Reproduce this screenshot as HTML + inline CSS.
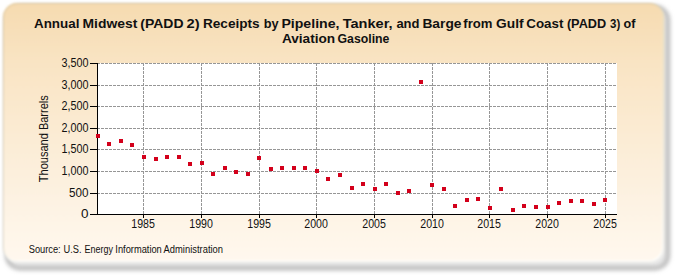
<!DOCTYPE html><html><head><meta charset="utf-8"><style>
html,body{margin:0;padding:0;background:#fff;}
body{width:675px;height:275px;overflow:hidden;}
svg{display:block;}
text{font-family:"Liberation Sans",sans-serif;}
</style></head><body>
<svg width="675" height="275" viewBox="0 0 675 275">
<defs>
<linearGradient id="bg" x1="0" y1="0" x2="0" y2="1">
<stop offset="0" stop-color="#f6dbb0"/>
<stop offset="0.24" stop-color="#f9e4c4"/>
<stop offset="0.76" stop-color="#fdf2e2"/>
<stop offset="1" stop-color="#fff8ee"/>
</linearGradient>
<linearGradient id="bandg" x1="0" y1="0" x2="0" y2="1">
<stop offset="0" stop-color="#f4e3c0"/>
<stop offset="1" stop-color="#ffffff"/>
</linearGradient>
<filter id="bb" x="-2%" y="-2%" width="104%" height="104%"><feGaussianBlur stdDeviation="0.9"/></filter>
<filter id="sh" x="-10%" y="-10%" width="120%" height="130%"><feGaussianBlur stdDeviation="2.3"/></filter>
</defs>
<rect x="7" y="7" width="661" height="261.2" rx="13" ry="13" fill="#e8e8e8" stroke="#b4b4b4" stroke-width="4" filter="url(#sh)"/>
<g filter="url(#bb)">
<rect x="3" y="3" width="661.3" height="259.8" rx="14.5" ry="14.5" fill="url(#bandg)"/>
<rect x="3" y="3" width="659" height="257.5" rx="14" ry="14" fill="url(#bg)"/>
<rect x="3.5" y="3.5" width="660.3" height="258.8" rx="14.5" ry="14.5" fill="none" stroke="rgba(120,120,90,0.18)" stroke-width="1"/>
</g>

<rect x="97" y="63" width="520" height="151" fill="#ffffff"/>
<line x1="97" y1="193.5" x2="617" y2="193.5" stroke="#969696" stroke-width="1" stroke-dasharray="3 1"/>
<line x1="97" y1="171.5" x2="617" y2="171.5" stroke="#969696" stroke-width="1" stroke-dasharray="3 1"/>
<line x1="97" y1="149.5" x2="617" y2="149.5" stroke="#969696" stroke-width="1" stroke-dasharray="3 1"/>
<line x1="97" y1="128.5" x2="617" y2="128.5" stroke="#969696" stroke-width="1" stroke-dasharray="3 1"/>
<line x1="97" y1="106.5" x2="617" y2="106.5" stroke="#969696" stroke-width="1" stroke-dasharray="3 1"/>
<line x1="97" y1="85.5" x2="617" y2="85.5" stroke="#969696" stroke-width="1" stroke-dasharray="3 1"/>
<line x1="97" y1="63.5" x2="617" y2="63.5" stroke="#969696" stroke-width="1" stroke-dasharray="3 1"/>
<line x1="143.5" y1="63" x2="143.5" y2="214" stroke="#969696" stroke-width="1" stroke-dasharray="3 1"/>
<line x1="201.5" y1="63" x2="201.5" y2="214" stroke="#969696" stroke-width="1" stroke-dasharray="3 1"/>
<line x1="259.5" y1="63" x2="259.5" y2="214" stroke="#969696" stroke-width="1" stroke-dasharray="3 1"/>
<line x1="316.5" y1="63" x2="316.5" y2="214" stroke="#969696" stroke-width="1" stroke-dasharray="3 1"/>
<line x1="374.5" y1="63" x2="374.5" y2="214" stroke="#969696" stroke-width="1" stroke-dasharray="3 1"/>
<line x1="432.5" y1="63" x2="432.5" y2="214" stroke="#969696" stroke-width="1" stroke-dasharray="3 1"/>
<line x1="489.5" y1="63" x2="489.5" y2="214" stroke="#969696" stroke-width="1" stroke-dasharray="3 1"/>
<line x1="547.5" y1="63" x2="547.5" y2="214" stroke="#969696" stroke-width="1" stroke-dasharray="3 1"/>
<line x1="605.5" y1="63" x2="605.5" y2="214" stroke="#969696" stroke-width="1" stroke-dasharray="3 1"/>
<line x1="97.5" y1="63" x2="97.5" y2="215" stroke="#000" stroke-width="1"/>
<line x1="97" y1="214.5" x2="617" y2="214.5" stroke="#000" stroke-width="1"/>
<line x1="90" y1="214.5" x2="97" y2="214.5" stroke="#000" stroke-width="1"/>
<text x="88.4" y="217.8" font-size="12" text-anchor="end" fill="#111111" textLength="7.5" lengthAdjust="spacingAndGlyphs">0</text>
<line x1="90" y1="193.5" x2="97" y2="193.5" stroke="#000" stroke-width="1"/>
<text x="88.4" y="196.8" font-size="12" text-anchor="end" fill="#111111" textLength="19.5" lengthAdjust="spacingAndGlyphs">500</text>
<line x1="90" y1="171.5" x2="97" y2="171.5" stroke="#000" stroke-width="1"/>
<text x="88.4" y="174.8" font-size="12" text-anchor="end" fill="#111111" textLength="27" lengthAdjust="spacingAndGlyphs">1,000</text>
<line x1="90" y1="149.5" x2="97" y2="149.5" stroke="#000" stroke-width="1"/>
<text x="88.4" y="152.8" font-size="12" text-anchor="end" fill="#111111" textLength="27" lengthAdjust="spacingAndGlyphs">1,500</text>
<line x1="90" y1="128.5" x2="97" y2="128.5" stroke="#000" stroke-width="1"/>
<text x="88.4" y="131.8" font-size="12" text-anchor="end" fill="#111111" textLength="27" lengthAdjust="spacingAndGlyphs">2,000</text>
<line x1="90" y1="106.5" x2="97" y2="106.5" stroke="#000" stroke-width="1"/>
<text x="88.4" y="109.8" font-size="12" text-anchor="end" fill="#111111" textLength="27" lengthAdjust="spacingAndGlyphs">2,500</text>
<line x1="90" y1="85.5" x2="97" y2="85.5" stroke="#000" stroke-width="1"/>
<text x="88.4" y="88.8" font-size="12" text-anchor="end" fill="#111111" textLength="27" lengthAdjust="spacingAndGlyphs">3,000</text>
<line x1="90" y1="63.5" x2="97" y2="63.5" stroke="#000" stroke-width="1"/>
<text x="88.4" y="66.8" font-size="12" text-anchor="end" fill="#111111" textLength="27" lengthAdjust="spacingAndGlyphs">3,500</text>
<line x1="143.5" y1="214" x2="143.5" y2="218" stroke="#000" stroke-width="1"/>
<text x="143.1" y="227.7" font-size="12" text-anchor="middle" fill="#111111" textLength="23.6" lengthAdjust="spacingAndGlyphs">1985</text>
<line x1="201.5" y1="214" x2="201.5" y2="218" stroke="#000" stroke-width="1"/>
<text x="201.1" y="227.7" font-size="12" text-anchor="middle" fill="#111111" textLength="23.6" lengthAdjust="spacingAndGlyphs">1990</text>
<line x1="259.5" y1="214" x2="259.5" y2="218" stroke="#000" stroke-width="1"/>
<text x="259.1" y="227.7" font-size="12" text-anchor="middle" fill="#111111" textLength="23.6" lengthAdjust="spacingAndGlyphs">1995</text>
<line x1="316.5" y1="214" x2="316.5" y2="218" stroke="#000" stroke-width="1"/>
<text x="316.1" y="227.7" font-size="12" text-anchor="middle" fill="#111111" textLength="23.6" lengthAdjust="spacingAndGlyphs">2000</text>
<line x1="374.5" y1="214" x2="374.5" y2="218" stroke="#000" stroke-width="1"/>
<text x="374.1" y="227.7" font-size="12" text-anchor="middle" fill="#111111" textLength="23.6" lengthAdjust="spacingAndGlyphs">2005</text>
<line x1="432.5" y1="214" x2="432.5" y2="218" stroke="#000" stroke-width="1"/>
<text x="432.1" y="227.7" font-size="12" text-anchor="middle" fill="#111111" textLength="23.6" lengthAdjust="spacingAndGlyphs">2010</text>
<line x1="489.5" y1="214" x2="489.5" y2="218" stroke="#000" stroke-width="1"/>
<text x="489.1" y="227.7" font-size="12" text-anchor="middle" fill="#111111" textLength="23.6" lengthAdjust="spacingAndGlyphs">2015</text>
<line x1="547.5" y1="214" x2="547.5" y2="218" stroke="#000" stroke-width="1"/>
<text x="547.1" y="227.7" font-size="12" text-anchor="middle" fill="#111111" textLength="23.6" lengthAdjust="spacingAndGlyphs">2020</text>
<line x1="605.5" y1="214" x2="605.5" y2="218" stroke="#000" stroke-width="1"/>
<text x="605.1" y="227.7" font-size="12" text-anchor="middle" fill="#111111" textLength="23.6" lengthAdjust="spacingAndGlyphs">2025</text>
<rect x="96" y="134" width="4" height="4" fill="#d3001b"/>
<rect x="107" y="142" width="4" height="4" fill="#d3001b"/>
<rect x="119" y="139" width="4" height="4" fill="#d3001b"/>
<rect x="130" y="143" width="4" height="4" fill="#d3001b"/>
<rect x="142" y="155" width="4" height="4" fill="#d3001b"/>
<rect x="154" y="157" width="4" height="4" fill="#d3001b"/>
<rect x="165" y="155" width="4" height="4" fill="#d3001b"/>
<rect x="177" y="155" width="4" height="4" fill="#d3001b"/>
<rect x="188" y="162" width="4" height="4" fill="#d3001b"/>
<rect x="200" y="161" width="4" height="4" fill="#d3001b"/>
<rect x="211" y="172" width="4" height="4" fill="#d3001b"/>
<rect x="223" y="166" width="4" height="4" fill="#d3001b"/>
<rect x="234" y="170" width="4" height="4" fill="#d3001b"/>
<rect x="246" y="172" width="4" height="4" fill="#d3001b"/>
<rect x="257" y="156" width="4" height="4" fill="#d3001b"/>
<rect x="269" y="167" width="4" height="4" fill="#d3001b"/>
<rect x="280" y="166" width="4" height="4" fill="#d3001b"/>
<rect x="292" y="166" width="4" height="4" fill="#d3001b"/>
<rect x="303" y="166" width="4" height="4" fill="#d3001b"/>
<rect x="315" y="169" width="4" height="4" fill="#d3001b"/>
<rect x="326" y="177" width="4" height="4" fill="#d3001b"/>
<rect x="338" y="173" width="4" height="4" fill="#d3001b"/>
<rect x="350" y="186" width="4" height="4" fill="#d3001b"/>
<rect x="361" y="182" width="4" height="4" fill="#d3001b"/>
<rect x="373" y="187" width="4" height="4" fill="#d3001b"/>
<rect x="384" y="182" width="4" height="4" fill="#d3001b"/>
<rect x="396" y="191" width="4" height="4" fill="#d3001b"/>
<rect x="407" y="189" width="4" height="4" fill="#d3001b"/>
<rect x="419" y="80" width="4" height="4" fill="#d3001b"/>
<rect x="430" y="183" width="4" height="4" fill="#d3001b"/>
<rect x="442" y="187" width="4" height="4" fill="#d3001b"/>
<rect x="453" y="204" width="4" height="4" fill="#d3001b"/>
<rect x="465" y="198" width="4" height="4" fill="#d3001b"/>
<rect x="476" y="197" width="4" height="4" fill="#d3001b"/>
<rect x="488" y="206" width="4" height="4" fill="#d3001b"/>
<rect x="499" y="187" width="4" height="4" fill="#d3001b"/>
<rect x="511" y="208" width="4" height="4" fill="#d3001b"/>
<rect x="522" y="204" width="4" height="4" fill="#d3001b"/>
<rect x="534" y="205" width="4" height="4" fill="#d3001b"/>
<rect x="546" y="205" width="4" height="4" fill="#d3001b"/>
<rect x="557" y="201" width="4" height="4" fill="#d3001b"/>
<rect x="569" y="199" width="4" height="4" fill="#d3001b"/>
<rect x="580" y="199" width="4" height="4" fill="#d3001b"/>
<rect x="592" y="202" width="4" height="4" fill="#d3001b"/>
<rect x="603" y="198" width="4" height="4" fill="#d3001b"/>
<text x="34.00" y="27.7" font-size="13" font-weight="bold" fill="#111111" textLength="45.40" lengthAdjust="spacingAndGlyphs">Annual</text>
<text x="82.50" y="27.7" font-size="13" font-weight="bold" fill="#111111" textLength="54.80" lengthAdjust="spacingAndGlyphs">Midwest</text>
<text x="140.30" y="27.7" font-size="13" font-weight="bold" fill="#111111" textLength="43.30" lengthAdjust="spacingAndGlyphs">(PADD</text>
<text x="186.60" y="27.7" font-size="13" font-weight="bold" fill="#111111" textLength="13.10" lengthAdjust="spacingAndGlyphs">2)</text>
<text x="202.90" y="27.7" font-size="13" font-weight="bold" fill="#111111" textLength="56.80" lengthAdjust="spacingAndGlyphs">Receipts</text>
<text x="263.70" y="27.7" font-size="13" font-weight="bold" fill="#111111" textLength="14.90" lengthAdjust="spacingAndGlyphs">by</text>
<text x="281.40" y="27.7" font-size="13" font-weight="bold" fill="#111111" textLength="58.10" lengthAdjust="spacingAndGlyphs">Pipeline,</text>
<text x="342.70" y="27.7" font-size="13" font-weight="bold" fill="#111111" textLength="49.90" lengthAdjust="spacingAndGlyphs">Tanker,</text>
<text x="396.40" y="27.7" font-size="13" font-weight="bold" fill="#111111" textLength="23.10" lengthAdjust="spacingAndGlyphs">and</text>
<text x="422.40" y="27.7" font-size="13" font-weight="bold" fill="#111111" textLength="39.10" lengthAdjust="spacingAndGlyphs">Barge</text>
<text x="463.30" y="27.7" font-size="13" font-weight="bold" fill="#111111" textLength="29.20" lengthAdjust="spacingAndGlyphs">from</text>
<text x="496.10" y="27.7" font-size="13" font-weight="bold" fill="#111111" textLength="27.50" lengthAdjust="spacingAndGlyphs">Gulf</text>
<text x="526.30" y="27.7" font-size="13" font-weight="bold" fill="#111111" textLength="37.10" lengthAdjust="spacingAndGlyphs">Coast</text>
<text x="566.90" y="27.7" font-size="13" font-weight="bold" fill="#111111" textLength="39.30" lengthAdjust="spacingAndGlyphs">(PADD</text>
<text x="610.00" y="27.7" font-size="13" font-weight="bold" fill="#111111" textLength="10.20" lengthAdjust="spacingAndGlyphs">3)</text>
<text x="623.50" y="27.7" font-size="13" font-weight="bold" fill="#111111" textLength="11.90" lengthAdjust="spacingAndGlyphs">of</text>
<text x="281.90" y="42.7" font-size="13" font-weight="bold" fill="#111111" textLength="53.30" lengthAdjust="spacingAndGlyphs">Aviation</text>
<text x="337.50" y="42.7" font-size="13" font-weight="bold" fill="#111111" textLength="51.90" lengthAdjust="spacingAndGlyphs">Gasoline</text>
<text x="28.70" y="253" font-size="10" font-weight="normal" fill="#111111" textLength="32.00" lengthAdjust="spacingAndGlyphs">Source:</text>
<text x="63.60" y="253" font-size="10" font-weight="normal" fill="#111111" textLength="18.00" lengthAdjust="spacingAndGlyphs">U.S.</text>
<text x="84.40" y="253" font-size="10" font-weight="normal" fill="#111111" textLength="28.50" lengthAdjust="spacingAndGlyphs">Energy</text>
<text x="115.30" y="253" font-size="10" font-weight="normal" fill="#111111" textLength="46.50" lengthAdjust="spacingAndGlyphs">Information</text>
<text x="163.60" y="253" font-size="10" font-weight="normal" fill="#111111" textLength="59.40" lengthAdjust="spacingAndGlyphs">Administration</text>
<text transform="translate(47.6,182.2) rotate(-90)" x="0" y="0" font-size="12" fill="#111111" textLength="87" lengthAdjust="spacingAndGlyphs">Thousand Barrels</text>
</svg></body></html>
